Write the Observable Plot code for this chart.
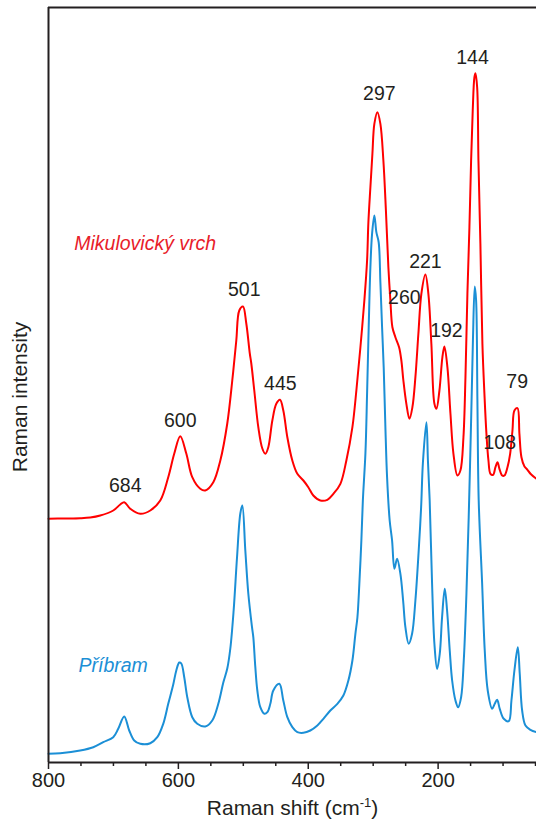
<!DOCTYPE html>
<html><head><meta charset="utf-8">
<script src="https://cdn.jsdelivr.net/npm/d3@7"></script>
<script src="https://cdn.jsdelivr.net/npm/@observablehq/plot@0.6"></script>
<style>body{margin:0;background:#fff;} svg{display:block}</style>
</head><body><div id="chart"></div>
<script>
// Raman shift (cm-1) and intensity (arbitrary units) — Mikulovický vrch
const wnMik = [800,775.8,751.2,735.8,720.3,700.3,689.5,683.4,674.1,658.7,
 643.3,627.9,615.6,606.3,597.1,587.8,578.6,566.3,558.6,546.2,
 535.4,524.7,517.0,510.8,506.2,500.5,495.4,490.0,487.7,483.1,
 476.9,470.7,466.1,461.5,455.3,449.2,443.5,438.4,432.2,424.5,
 416.8,407.5,399.9,392.2,381.4,370.6,361.3,350.5,341.3,332.0,
 325.9,319.7,313.6,309.4,307.4,304.3,301.2,298.2,293.5,288.9,
 284.3,280.4,276.6,273.5,270.4,265.8,260.1,256.6,253.5,248.9,
 244.2,239.6,235.0,230.4,225.8,219.6,215.0,210.4,205.7,202.6,
 198.0,193.4,190.3,185.7,181.0,176.4,170.3,165.7,161.0,157.9,
 154.9,151.8,149.2,146.7,144.1,142.5,139.9,137.9,134.9,131.8,
 128.7,125.6,122.5,119.4,115.3,111.7,108.6,105.6,101.4,97.9,
 93.2,89.1,85.5,82.5,77.8,74.8,71.7,67.0,62.4,57.8,
 48.6];
const intMik = [243.7,244,244.3,245,247,252,258,260.3,253.7,248.7,
 252,262,285.3,309,326.3,309,285.3,273.7,272,280.3,
 302,339,382,422,452,456,439,409,399,372,
 335.3,314,308.7,315.3,342,358.7,362.7,352,325.3,302,
 288.7,282,275.3,267,262,262.7,268.7,278.7,302,335.3,
 372,415,462,502,540,575.3,608.7,638.7,650.3,638.7,
 602,552,495.3,462,435.3,425.3,415.3,402,382,358.7,
 343.7,355.3,385.3,428.7,468.7,488,468.7,418.7,358.7,353.7,
 372,405.3,416,395.3,348.7,308.7,287,292,325.3,385.3,
 468.7,535.3,602,652,685.3,689.3,675.3,602,518.7,418.7,
 368.7,328.7,302,288.7,287.7,295.3,300.3,293.7,287,287,
 295.3,308.7,332,352,354.3,328.7,305.3,296,292.7,288.7,
 283.7];

// Příbram
const wnPri = [800,782,751.2,731.1,715.7,700.3,692.6,683.4,675.7,668.0,
 658.7,643.3,632.5,623.3,615.6,607.9,603.2,598.6,595.5,590.9,586.3,
 578.6,570.9,558.6,547.8,538.5,530.8,524.7,520.0,514.9,509.7,
 504.6,501.5,496.9,492.3,486.6,484.6,481.5,478.4,473.8,467.6,
 463.0,458.4,453.8,444.5,438.4,432.2,424.5,416.8,407.5,396.8,
 386.0,376.7,366.0,355.2,345.9,338.2,332.0,327.4,324.3,321.3,
 318.2,315.9,311.9,309.4,306.9,304.3,301.7,298.2,295.1,291.5,
 288.9,286.3,283.8,281.2,278.6,274.6,270.9,267.3,263.2,258.1,
 253.9,250.4,245.3,240.1,235.0,229.9,226.2,223.4,218.0,215.7,
 213.0,209.3,205.7,201.6,197.5,193.9,189.8,186.2,182.1,178.4,
 173.3,169.2,164.6,160.5,156.4,152.9,149.2,146.4,143.6,141.5,
 139.5,137.5,132.2,128.2,123.6,116.8,112.8,109.1,105.1,98.9,
 91.2,87.1,82.5,77.3,74.3,70.6,65.5,57.8,48.6];
const intPri = [8.7,9.3,12,15.3,20.3,25.3,33.7,46,32,22,
 18.7,19.3,25.3,38.7,58.7,78,92,100,99,85,65.3,
 45.3,38.7,36,42,58.7,80,94,114,152,205,
 249,257,212,169,135.3,125.3,95.3,72,55.3,48.7,
 50.3,58.7,72,78.7,62,45.3,35.3,30.3,29.7,32,
 37,43.7,52,58.7,67,82,102,128.7,145,178.7,
 222,262,310,369,435.3,495.3,528.7,547,530.3,520,
 480,435.3,395,335.3,285.3,242,222,193.7,203.7,188.7,
 162,135.3,118.7,128.7,162,212,255,300,340.3,302,
 262,178.7,118.7,93.7,108.7,145.3,173.7,152,112,82,
 62,55.3,65.3,102,168.7,245.3,342,422,476,462,
 362,262,178.7,112,72,53.7,58.7,62.7,53.7,43.7,
 41.3,62,92,115.3,88.7,52,37,32.7,30.3];

// Peak annotations
const peakLabels = ["684","600","501","445","297","260","221","192","144","108","79"];
const peakX = [681.8,597.1,498.5,443,290.5,252,219.6,187.2,147.1,105.1,78.3];
const peakY = [277,342,473,379,669,465,501,432,705,320,381];

const seriesNames = ["Mikulovický vrch","Příbram"];
const seriesX = [760.4,753.8];
const seriesY = [519,97];

const majorTicks = [800,600,400,200];
const minorTicks = [750,700,650,550,500,450,350,300,250,150,100,50];
const xTitleMain = "Raman shift (cm", xTitleSup = "-1", xTitleEnd = ")";
const yTitle = "Raman intensity";

const mik = wnMik.map((x,i)=>({x, y:intMik[i]}));
const pri = wnPri.map((x,i)=>({x, y:intPri[i]}));
const peaks = peakLabels.map((t,i)=>({t, x:peakX[i], y:peakY[i]}));
const names = seriesNames.map((t,i)=>({t, x:seriesX[i], y:seriesY[i]}));

const ink = "#231f20", red = "#ff0000", redText = "#e8202a", blue = "#1b8fd6";

const chart = Plot.plot({
  width:536, height:821, marginLeft:48, marginRight:0, marginTop:7, marginBottom:59,
  style:{fontFamily:"'Liberation Sans', Arial, sans-serif", background:"#fff", color:ink},
  x:{domain:[800,48.5], axis:null},
  y:{domain:[0,755], axis:null},
  marks:[
    Plot.line(pri, {x:"x", y:"y", stroke:blue, strokeWidth:2, curve:"catmull-rom"}),
    Plot.line(mik, {x:"x", y:"y", stroke:red, strokeWidth:2, curve:"catmull-rom"}),
    Plot.axisX(majorTicks, {anchor:"bottom", tickSize:7, tickPadding:3.5, fontSize:20, label:null, stroke:ink, strokeWidth:1.5, fill:ink}),
    Plot.axisX(minorTicks, {anchor:"bottom", tickSize:4, tickFormat:()=>"", label:null, stroke:ink, strokeWidth:1.5}),
    Plot.ruleY([0], {stroke:ink, strokeWidth:2}),
    Plot.ruleY([755], {stroke:ink, strokeWidth:2}),
    Plot.ruleX([800], {stroke:ink, strokeWidth:2}),
    Plot.text(peaks, {x:"x", y:"y", text:"t", fontSize:19.5, fill:ink}),
    Plot.text([names[0]], {x:"x", y:"y", text:"t", fill:redText, textAnchor:"start", fontStyle:"italic", fontSize:19.5}),
    Plot.text([names[1]], {x:"x", y:"y", text:"t", fill:blue, textAnchor:"start", fontStyle:"italic", fontSize:19.5}),
    Plot.text([xTitleMain + xTitleSup + xTitleEnd], {frameAnchor:"bottom", dy:46, lineAnchor:"middle", textAnchor:"middle", fontSize:21, fill:ink}),
    Plot.text([yTitle], {frameAnchor:"left", rotate:-90, dx:-28, dy:12, textAnchor:"middle", lineAnchor:"middle", fontSize:21, fill:ink})
  ]
});

// superscript for cm-1
chart.querySelectorAll("text").forEach(t => {
  if (t.textContent === xTitleMain + xTitleSup + xTitleEnd) {
    t.textContent = "";
    const ns = "http://www.w3.org/2000/svg";
    const a = document.createElementNS(ns, "tspan"); a.textContent = xTitleMain;
    const b = document.createElementNS(ns, "tspan"); b.textContent = xTitleSup;
    b.setAttribute("dy", "-8"); b.setAttribute("font-size", "13");
    const c = document.createElementNS(ns, "tspan"); c.textContent = xTitleEnd;
    c.setAttribute("dy", "8");
    t.append(a, b, c);
  }
});
document.getElementById("chart").append(chart);
</script>
</body></html>
